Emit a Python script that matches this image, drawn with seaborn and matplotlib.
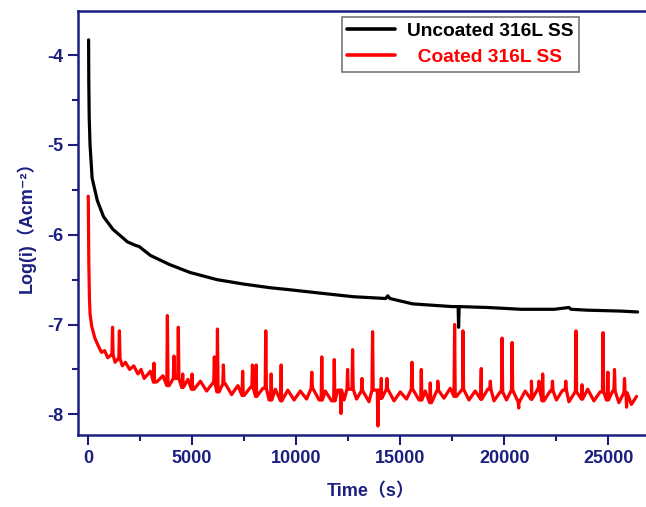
import numpy as np
import pandas as pd
import seaborn as sns
import matplotlib.pyplot as plt

# Uncoated 316L SS (black)
black_t = [30, 40, 60, 100, 200, 450, 750, 1200, 1900, 2300, 2450, 3000, 3900, 4900,
           6200, 7500, 8750, 9600, 11150, 12750, 14300, 14400, 14500, 15600, 17500,
           17780, 17800, 17830, 19200, 20800, 22400, 23100, 23200, 24000, 25600, 26400]
black_v = [-3.83, -4.30, -4.70, -5.00, -5.37, -5.62, -5.80, -5.94, -6.08, -6.12, -6.13,
           -6.23, -6.33, -6.42, -6.50, -6.55, -6.59, -6.61, -6.65, -6.69, -6.71, -6.68,
           -6.71, -6.77, -6.80, -6.80, -7.03, -6.80, -6.81, -6.83, -6.83, -6.81, -6.83,
           -6.84, -6.85, -6.86]

# Coated 316L SS (red): noisy baseline
red_t = ([15, 40, 70, 100, 180, 330, 500, 650, 800, 950, 1100, 1300, 1450, 1650, 1800,
          2000, 2200, 2400, 2550] + list(range(2700, 26101, 300)) + [26350])
red_v = [-5.57, -6.30, -6.70, -6.88, -7.02, -7.15, -7.24, -7.31, -7.29, -7.37, -7.34,
         -7.42, -7.38, -7.46, -7.42, -7.50, -7.46, -7.55, -7.50,
         -7.60, -7.52, -7.64, -7.57, -7.68, -7.60, -7.70, -7.61, -7.72, -7.63,
         -7.74, -7.65, -7.75, -7.66, -7.78, -7.68, -7.79, -7.70, -7.80, -7.71,
         -7.84, -7.72, -7.85, -7.73, -7.84, -7.74, -7.83, -7.71, -7.84, -7.74,
         -7.85, -7.73, -7.84, -7.72, -7.83, -7.74, -7.86, -7.73, -7.82, -7.72,
         -7.85, -7.75, -7.83, -7.72, -7.84, -7.74, -7.87, -7.73, -7.82, -7.71,
         -7.80, -7.72, -7.84, -7.74, -7.83, -7.72, -7.85, -7.75, -7.84, -7.73,
         -7.86, -7.74, -7.83, -7.72, -7.85, -7.74, -7.84, -7.73, -7.86, -7.75,
         -7.83, -7.72, -7.85, -7.75, -7.84, -7.74, -7.87, -7.76, -7.89,
         -7.80]

# spikes on the red curve (time, peak)
spike_t = [1180, 1510, 3170, 3815, 4130, 4340, 4550, 5000, 6070, 6220, 6505, 7430, 7900,
           8080, 8540, 8800, 9280, 10750, 11230, 11830, 12150, 12470, 12710, 13160, 13670,
           13925, 14090, 14360, 15560, 16010, 16440, 16800, 17610, 18010, 18890, 19325,
           19890, 20370, 20690, 21300, 21660, 21840, 22310, 22950, 23440, 23730, 24740,
           24970, 25290, 25770, 25870]
spike_v = [-7.03, -7.07, -7.43, -6.90, -7.35, -7.03, -7.55, -7.55, -7.36, -7.05, -7.45,
           -7.52, -7.45, -7.45, -7.07, -7.55, -7.45, -7.53, -7.36, -7.39, -7.99, -7.50,
           -7.28, -7.60, -7.08, -8.13, -7.60, -7.60, -7.42, -7.50, -7.65, -7.63, -7.00,
           -7.07, -7.49, -7.63, -7.15, -7.20, -7.93, -7.63, -7.63, -7.55, -7.63, -7.63,
           -7.07, -7.67, -7.09, -7.53, -7.50, -7.60, -7.92]

navy = '#1b1f80'

# build the red series: baseline plus narrow spikes
base_t = np.array(red_t)
base_v = np.array(red_v)
rt, rv = list(red_t), list(red_v)
for t, v in zip(spike_t, spike_v):
    foot = base_v[np.abs(base_t - t).argmin()]
    rt += [t - 30, t, t + 30]
    rv += [foot, v, foot]
red = pd.DataFrame({'t': rt, 'v': rv}).sort_values('t')
black = pd.DataFrame({'t': black_t, 'v': black_v})

sns.set_style('ticks')
plt.rcParams['font.family'] = ['Liberation Sans', 'DejaVu Sans', 'Noto Sans CJK SC']
plt.rcParams['font.weight'] = 'bold'
plt.rcParams['axes.unicode_minus'] = False

fig = plt.figure(figsize=(6.46, 5.07), dpi=100)
ax = fig.add_axes([0.1207, 0.142, 0.905, 0.836])

sns.lineplot(data=black, x='t', y='v', color='black', lw=2.3, estimator=None,
             ax=ax, label='Uncoated 316L SS')
sns.lineplot(data=red, x='t', y='v', color='#ff0000', lw=2.3, estimator=None,
             ax=ax, label='  Coated 316L SS')

ax.set_xlim(-480, 27600)
ax.set_ylim(-8.23, -3.51)
ax.set_xticks(range(0, 25001, 5000))
ax.set_xticks(range(2500, 27500, 5000), minor=True)
ax.set_yticks([-8, -7, -6, -5, -4])
ax.set_yticks([-7.5, -6.5, -5.5, -4.5], minor=True)

for s in ax.spines.values():
    s.set_color(navy)
    s.set_linewidth(1.8)
ax.tick_params(which='major', direction='out', length=7, width=1.5, colors=navy,
               labelsize=13)
ax.tick_params(which='minor', direction='out', length=4, width=1.5, colors=navy)
for lab in ax.get_xticklabels() + ax.get_yticklabels():
    lab.set_fontweight('bold')

ax.set_xlabel('Time（s）', fontsize=13, fontweight='bold', color=navy, labelpad=12)
ax.set_ylabel('Log(i)（Acm⁻²）', fontsize=13, fontweight='bold', color=navy,
              labelpad=8)

leg = ax.legend(loc='upper left', bbox_to_anchor=(0.451, 0.987), borderaxespad=0,
                fancybox=False, edgecolor='#555555', fontsize=13.8, handlelength=2.5,
                borderpad=0.3, labelspacing=0.45, handletextpad=0.6)
leg.get_frame().set_linewidth(1.2)
for txt, c in zip(leg.get_texts(), ['black', '#ff0000']):
    txt.set_color(c)
    txt.set_fontweight('bold')
for h in leg.get_lines():
    h.set_linewidth(2.6)

fig.savefig('out.png', dpi=100)
